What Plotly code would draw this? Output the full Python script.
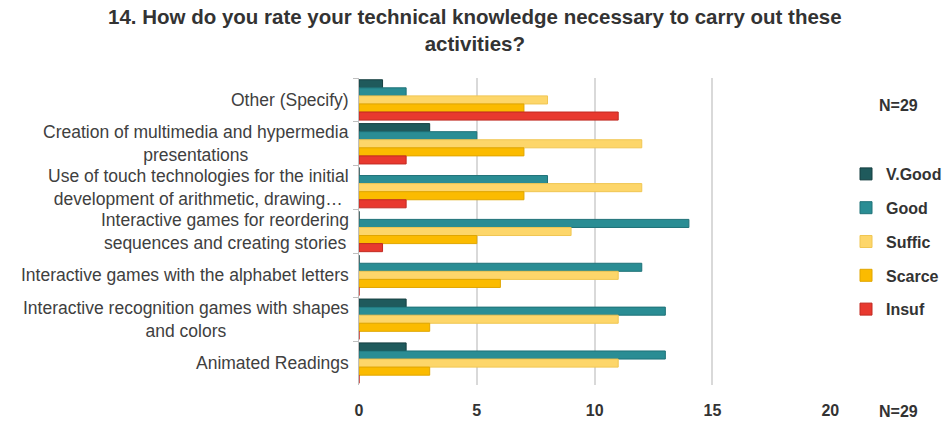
import plotly.graph_objects as go

categories = [
    "Other (Specify)",
    "Creation of multimedia and hypermedia<br>presentations",
    "Use of touch technologies for the initial<br>development of arithmetic, drawing…",
    "Interactive games for reordering<br>sequences and creating stories",
    "Interactive games with the alphabet letters",
    "Interactive recognition games with shapes<br>and colors",
    "Animated Readings",
]
v_good = [1, 3, 0, 0, 0, 2, 2]
good = [2, 5, 8, 14, 12, 13, 13]
suffic = [8, 12, 12, 9, 11, 11, 11]
scarce = [7, 7, 7, 5, 6, 3, 3]
insuf = [11, 2, 2, 1, 0, 0, 0]
x_ticks = [0, 5, 10, 15, 20]

series = [
    ("V.Good", v_good, "#1f5a5c", "#163f41"),
    ("Good", good, "#2a8d94", "#1f7278"),
    ("Suffic", suffic, "#fdd66a", "#f0c653"),
    ("Scarce", scarce, "#fbbb00", "#e0a600"),
    ("Insuf", insuf, "#e8392f", "#c22a22"),
]

L, R, T, B = 359, 119, 78, 41
W, H = 950, 426
pw, ph = W - L - R, H - T - B

fig = go.Figure()
for name, vals, col, lc in series:
    fig.add_trace(go.Bar(
        y=categories, x=vals, name=f"<b>{name}</b>", orientation="h",
        marker=dict(color=col, line=dict(color=lc, width=1)),
        legendgroup=name,
    ))

fig.update_layout(
    width=W, height=H,
    margin=dict(l=L, r=R, t=T, b=B, autoexpand=False),
    plot_bgcolor="white", paper_bgcolor="white",
    barmode="group", bargap=0.08, bargroupgap=0,
    font=dict(family="Liberation Sans, Arial, sans-serif", color="#404040"),
    legend=dict(
        xref="container", yref="container", x=846/W, y=1-157/H,
        xanchor="left", yanchor="top",
        traceorder="grouped", tracegroupgap=10,
        font=dict(size=16, color="#333333", family="Liberation Sans, Arial, sans-serif"),
        itemwidth=30,
    ),
    showlegend=True,
)
fig.update_xaxes(
    range=[0, 20.03], tickvals=x_ticks, ticktext=[f"<b>{t}</b>" for t in x_ticks],
    showgrid=True, gridcolor="#d9d9d9", gridwidth=2, zeroline=False,
    showline=False, tickfont=dict(size=16, color="#333333"),
    ticks="", ticklabelstandoff=14,
)
fig.update_yaxes(
    autorange="reversed",
    showline=True, linecolor="#bfbfbf", linewidth=1,
    ticks="outside", tickson="boundaries", ticklen=5, tickcolor="#bfbfbf",
    showticklabels=False, showgrid=False,
)

# Title
fig.add_annotation(
    text="<b>14. How do you rate your technical knowledge necessary to carry out these<br>activities?</b>",
    xref="paper", yref="paper", x=(475 - L) / pw, y=(H - B - 30) / ph,
    xanchor="center", yanchor="middle", align="center", showarrow=False,
    font=dict(size=20.5, color="#333333"),
)
# Category labels (centered multi-line, right-anchored like the original)
for c in categories:
    fig.add_annotation(
        text=c, xref="paper", yref="y", x=-8 / pw, y=c,
        xanchor="right", yanchor="middle", align="center", showarrow=False,
        font=dict(size=17.5, color="#404040"),
    )
# N=29 notes
for ypix in (105, 411):
    fig.add_annotation(
        text="<b>N=29</b>", xref="paper", yref="paper",
        x=(898 - L) / pw, y=(H - B - ypix) / ph,
        xanchor="center", yanchor="middle", showarrow=False,
        font=dict(size=16, color="#333333"),
    )
fig.write_html("out.html")
